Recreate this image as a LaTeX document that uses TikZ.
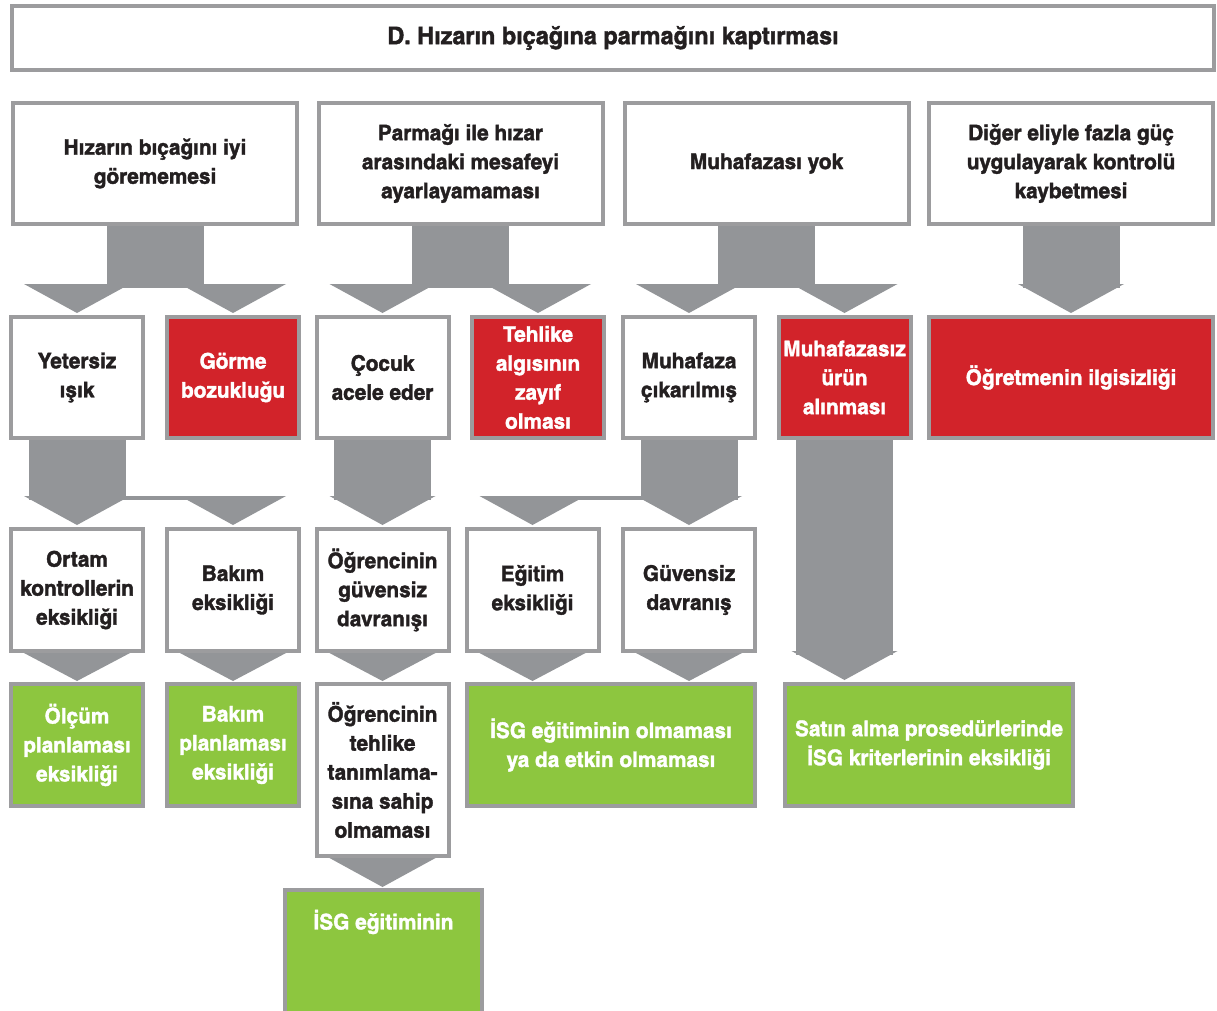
\documentclass[tikz,border=0pt]{standalone}
\usepackage{fontspec}
\setmainfont{texgyreheroscn}[Extension=.otf, UprightFont=*-regular, BoldFont=*-bold,
  BoldFeatures={FakeStretch=1.18, FakeBold=1.6}]
\usetikzlibrary{calc}

\definecolor{arrowgray}{HTML}{939598}
\definecolor{linegray}{HTML}{9C9C9E}
\definecolor{causered}{HTML}{D2232A}
\definecolor{rootgreen}{HTML}{8DC63F}
\definecolor{inkblack}{HTML}{231F20}

\tikzset{
  box/.style={draw=linegray, line width=4pt, fill=white, text=inkblack, align=center,
    inner sep=0pt, font=\bfseries\fontsize{21.5}{29}\selectfont},
  redbox/.style={box, fill=causered, text=white},
  greenbox/.style={box, fill=rootgreen, text=white},
  small/.style={minimum width=132pt, minimum height=121pt},
  wide/.style={minimum width=284pt, minimum height=121pt},
}

% head of a fat arrow at the x of #1, landing on node #2
\newcommand\headon[2]{%
  \fill[arrowgray] ($(#1 |- #2.north)+(-53,-31)$) -- ($(#1 |- #2.north)+(53,-31)$)
    -- ($(#1 |- #2.north)+(0,-2)$) -- cycle;}
% shaft and head from #1 to #2
\newcommand\onearrow[2]{%
  \fill[arrowgray] ($(#1.south)+(-48.5,0)$) rectangle ($(#1.south |- #2.north)+(48.5,-27)$);
  \headon{#1.south}{#2}}
% shaft from #1 splitting onto #2 and #3
\newcommand\splitarrow[3]{%
  \fill[arrowgray] ($(#1.south)+(-48.5,0)$) rectangle ($(#1.south |- #2.north)+(48.5,-27)$);
  \fill[arrowgray] ($(#1.south |- #2.north)+(0,-31)$) rectangle ($(#3.north)+(0,-27)$);
  \headon{#2.north}{#2}
  \headon{#3.north}{#3}}
% head only, in the short gap from #1 to #2
\newcommand\headonly[2]{%
  \fill[arrowgray] ($(#1.south)+(-53,0)$) -- ($(#1.south)+(53,0)$)
    -- ($(#1.south |- #2.north)+(0,-1)$) -- cycle;}

\begin{document}
\begin{tikzpicture}[x=1pt, y=-1pt]
  \useasboundingbox (0,0) rectangle (1217,1010);
  \clip (0,0) rectangle (1217,1010);

  % Title
  \node[box, minimum width=1202pt, minimum height=64pt, font=\bfseries\fontsize{24.2}{29}\selectfont]
    (title) at (613,38) {D. Hızarın bıçağına parmağını kaptırması};

  % First causes
  \node[box, wide] (a1) at (155,163.5) {Hızarın bıçağını iyi\\görememesi};
  \node[box, wide] (a2) at (460.5,163.5) {Parmağı ile hızar\\arasındaki mesafeyi\\ayarlayamaması};
  \node[box, wide] (a3) at (766.5,163.5) {Muhafazası yok};
  \node[box, wide] (a4) at (1071,163.5) {Diğer eliyle fazla güç\\uygulayarak kontrolü\\kaybetmesi};

  % Second row
  \node[box, small] (b1) at (77,377.5) {Yetersiz\\ışık};
  \node[redbox, small] (b2) at (233,377.5) {Görme\\bozukluğu};
  \node[box, small] (b3) at (382.5,377.5) {Çocuk\\acele eder};
  \node[redbox, small] (b4) at (538,377.5) {Tehlike\\algısının\\zayıf\\olması};
  \node[box, small] (b5) at (689,377.5) {Muhafaza\\çıkarılmış};
  \node[redbox, small] (b6) at (844.5,377.5) {Muhafazasız\\ürün\\alınması};
  \node[redbox, wide] (b7) at (1071,377.5) {Öğretmenin ilgisizliği};

  % Third row
  \node[box, small, minimum height=122pt] (c1) at (77,590) {Ortam\\kontrollerin\\eksikliği};
  \node[box, small, minimum height=122pt] (c2) at (233,590) {Bakım\\eksikliği};
  \node[box, small, minimum height=122pt] (c3) at (382.5,590) {Öğrencinin\\güvensiz\\davranışı};
  \node[box, small, minimum height=122pt] (c4) at (532.5,590) {Eğitim\\eksikliği};
  \node[box, small, minimum height=122pt] (c5) at (689,590) {Güvensiz\\davranış};

  % Root causes
  \node[greenbox, small, minimum height=122pt] (d1) at (77,745) {Ölçüm\\planlaması\\eksikliği};
  \node[greenbox, small, minimum height=122pt] (d2) at (233,745) {Bakım\\planlaması\\eksikliği};
  \node[box, small, minimum height=172pt] (d3) at (382.5,770)
    {Öğrencinin\\tehlike\\tanımlama-\\sına sahip\\olmaması};
  \node[greenbox, minimum width=288pt, minimum height=122pt] (d4) at (611,745)
    {İSG eğitiminin olmaması\\ya da etkin olmaması};
  \node[greenbox, minimum width=288pt, minimum height=122pt] (d5) at (929,745)
    {Satın alma prosedürlerinde\\İSG kriterlerinin eksikliği};

  \node[greenbox, minimum width=197pt, minimum height=196pt] (e1) at (383.5,988) {};
  \node[text=white, font=\bfseries\fontsize{21.5}{29}\selectfont] (e1t) at ($(e1.north)+(0,34)$)
    {İSG eğitiminin};

  % Fat arrows
  \splitarrow{a1}{b1}{b2}
  \splitarrow{a2}{b3}{b4}
  \splitarrow{a3}{b5}{b6}
  \onearrow{a4}{b7}

  \splitarrow{b1}{c1}{c2}
  \onearrow{b3}{c3}
  \splitarrow{b5}{c5}{c4}
  \onearrow{b6}{d5}

  \headonly{c1}{d1}
  \headonly{c2}{d2}
  \headonly{c3}{d3}
  \headonly{c4}{d4}
  \headonly{c5}{d4}
  \headonly{d3}{e1}
\end{tikzpicture}
\end{document}
